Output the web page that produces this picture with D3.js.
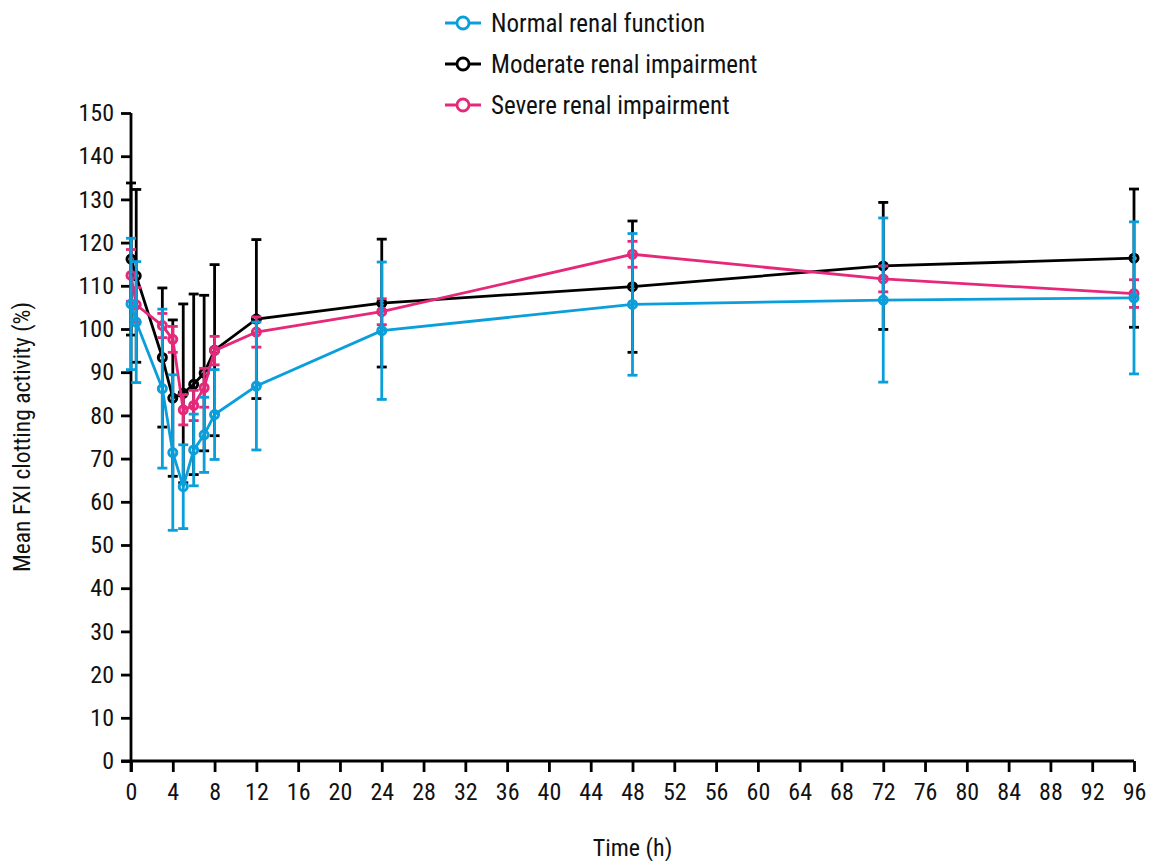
<html>
<head>
<script src="https://d3js.org/d3.v7.min.js"></script>
<style>
body {margin: 0; background: #fff;}
text {font-family: "Liberation Sans Narrow", "Arial Narrow", "Roboto Condensed", sans-serif; fill: #111;}
</style>
</head>
<body>
<svg width="1149" height="861"></svg>
<script>
// time points (h)
var times = [0, 0.5, 3, 4, 5, 6, 7, 8, 12, 24, 48, 72, 96];

// mean FXI clotting activity (%) and SD
var normalMean = [105.8, 101.6, 86.2, 71.4, 63.5, 72.0, 75.5, 80.2, 86.8, 99.6, 105.7, 106.7, 107.2];
var normalSd   = [15.2, 14.0, 18.4, 18.0, 9.7, 8.3, 8.7, 10.4, 14.8, 15.9, 16.4, 19.0, 17.6];
var moderateMean = [116.2, 112.3, 93.4, 84.0, 85.1, 87.2, 89.8, 95.1, 102.3, 106.0, 109.8, 114.6, 116.4];
var moderateSd   = [17.6, 20.0, 16.1, 18.1, 20.7, 20.9, 18.0, 19.8, 18.4, 14.8, 15.2, 14.7, 16.0];
var severeMean = [112.4, 105.6, 100.8, 97.6, 81.3, 82.3, 86.4, 95.0, 99.3, 104.0, 117.3, 111.6, 108.2];
var severeSd   = [6.0, 4.0, 2.8, 3.0, 3.5, 3.5, 4.5, 3.3, 3.5, 3.0, 3.0, 3.0, 3.2];

var seriesNames = ["Normal renal function", "Moderate renal impairment", "Severe renal impairment"];
var seriesColors = ["#0a9fdb", "#000000", "#e6287a"];

var xTicks = d3.range(0, 97, 4);
var yTicks = d3.range(0, 151, 10);

var series = [
  {name: seriesNames[0], color: seriesColors[0], mean: normalMean, sd: normalSd},
  {name: seriesNames[1], color: seriesColors[1], mean: moderateMean, sd: moderateSd},
  {name: seriesNames[2], color: seriesColors[2], mean: severeMean, sd: severeSd}
];

var svg = d3.select("svg");
var plotLeft = 131, plotRight = 1134, plotTop = 113, plotBottom = 761;

var x = d3.scaleLinear().domain([0, 96]).range([plotLeft, plotRight]);
var y = d3.scaleLinear().domain([0, 150]).range([plotBottom, plotTop]);

// axes
var yAxis = svg.append("g")
  .attr("transform", "translate(" + plotLeft + ",0)")
  .call(d3.axisLeft(y).tickValues(yTicks).tickSize(10).tickPadding(7));
var xAxis = svg.append("g")
  .attr("transform", "translate(0," + plotBottom + ")")
  .call(d3.axisBottom(x).tickValues(xTicks).tickSize(11).tickPadding(8));

[xAxis, yAxis].forEach(function(a) {
  a.select(".domain").attr("stroke", "#000").attr("stroke-width", 2.8);
  a.selectAll(".tick line").attr("stroke", "#000").attr("stroke-width", 2.8);
  a.selectAll(".tick text").style("font-size", "24px").attr("fill", "#111");
});
yAxis.select(".domain").attr("d", "M0," + (plotBottom + 11) + "V" + plotTop);
xAxis.select(".domain").attr("d", "M" + (plotLeft - 10) + ",0H" + plotRight);
xAxis.selectAll(".tick text").attr("dy", "0.85em");

svg.append("text")
  .attr("transform", "translate(30," + ((plotTop + plotBottom) / 2) + ") rotate(-90)")
  .attr("text-anchor", "middle")
  .style("font-size", "23.5px")
  .text("Mean FXI clotting activity (%)");

svg.append("text")
  .attr("x", (plotLeft + plotRight) / 2)
  .attr("y", 856)
  .attr("text-anchor", "middle")
  .style("font-size", "24px")
  .text("Time (h)");

// draw order: moderate, severe, normal (normal on top)
var order = [1, 2, 0];
var line = d3.line().x(function(d) { return x(d.t); }).y(function(d) { return y(d.m); });

order.forEach(function(i) {
  var s = series[i];
  var pts = times.map(function(t, k) { return {t: t, m: s.mean[k], sd: s.sd[k]}; });
  var g = svg.append("g");

  g.append("path")
    .datum(pts)
    .attr("d", line)
    .attr("fill", "none")
    .attr("stroke", s.color)
    .attr("stroke-width", 2.8);

  var eb = g.selectAll(".eb").data(pts).enter().append("g");
  eb.append("line")
    .attr("x1", function(d) { return x(d.t); })
    .attr("x2", function(d) { return x(d.t); })
    .attr("y1", function(d) { return y(d.m + d.sd); })
    .attr("y2", function(d) { return y(d.m - d.sd); })
    .attr("stroke", s.color).attr("stroke-width", 2.8);
  [1, -1].forEach(function(sign) {
    eb.append("line")
      .attr("x1", function(d) { return x(d.t) - 5; })
      .attr("x2", function(d) { return x(d.t) + 5; })
      .attr("y1", function(d) { return y(d.m + sign * d.sd); })
      .attr("y2", function(d) { return y(d.m + sign * d.sd); })
      .attr("stroke", s.color).attr("stroke-width", 2.8);
  });

  g.selectAll("circle").data(pts).enter().append("circle")
    .attr("cx", function(d) { return x(d.t); })
    .attr("cy", function(d) { return y(d.m); })
    .attr("r", 4)
    .attr("fill", "none")
    .attr("stroke", s.color)
    .attr("stroke-width", 3);
});

// legend
var legend = svg.append("g");
series.forEach(function(s, i) {
  var ly = 23 + i * 41;
  legend.append("line").attr("x1", 445).attr("x2", 481).attr("y1", ly).attr("y2", ly)
    .attr("stroke", s.color).attr("stroke-width", 2.8);
  legend.append("circle").attr("cx", 463).attr("cy", ly).attr("r", 6)
    .attr("fill", "#fff").attr("stroke", s.color).attr("stroke-width", 2.8);
  legend.append("text").attr("x", 491).attr("y", ly).attr("dy", "0.35em")
    .style("font-size", "25px").text(s.name);
});
</script>
</body>
</html>
